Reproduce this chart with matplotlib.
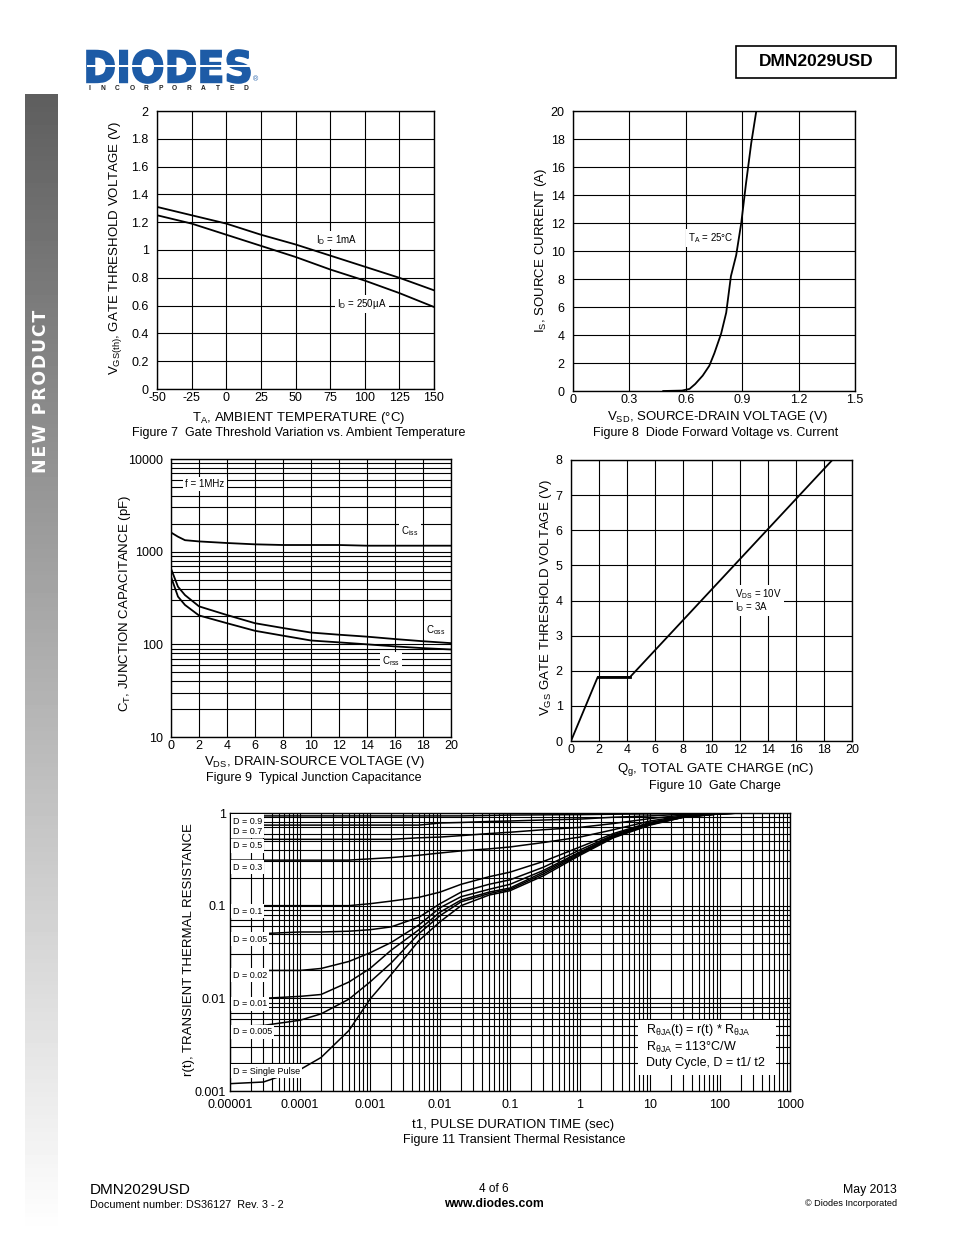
import numpy as np
import matplotlib
matplotlib.use('Agg')
import matplotlib.pyplot as plt
from matplotlib.ticker import LogLocator, FixedLocator, NullFormatter
from matplotlib.textpath import TextPath
from matplotlib.patches import PathPatch, Rectangle
from matplotlib.font_manager import FontProperties
from matplotlib.transforms import Affine2D

plt.rcParams['font.family'] = ['Liberation Sans', 'DejaVu Sans']
plt.rcParams['mathtext.fontset'] = 'custom'
plt.rcParams['mathtext.rm'] = 'Liberation Sans'
plt.rcParams['mathtext.it'] = 'Liberation Sans:italic'
plt.rcParams['mathtext.bf'] = 'Liberation Sans:bold'
plt.rcParams['axes.unicode_minus'] = False

# ---- Figure 7: gate threshold vs temperature
temp_c = [-50, -25, 0, 25, 50, 75, 100, 125, 150]
vth_1ma = [1.31, 1.25, 1.19, 1.11, 1.04, 0.96, 0.88, 0.80, 0.71]
vth_250ua = [1.25, 1.19, 1.11, 1.03, 0.95, 0.86, 0.78, 0.69, 0.59]
f7_yticks = [0, 0.2, 0.4, 0.6, 0.8, 1.0, 1.2, 1.4, 1.6, 1.8, 2.0]
f7_ylabels = ['0', '0.2', '0.4', '0.6', '0.8', '1', '1.2', '1.4', '1.6', '1.8', '2']

# ---- Figure 8: diode forward voltage
vsd = [0.48, 0.58, 0.62, 0.65, 0.69, 0.725, 0.752, 0.788, 0.815, 0.84, 0.868, 0.895, 0.92, 0.948, 0.975]
i_s = [0.0, 0.03, 0.15, 0.5, 1.1, 1.8, 2.7, 4.1, 5.6, 8.2, 9.7, 12.0, 14.8, 17.7, 20.0]
f8_xticks = [0, 0.3, 0.6, 0.9, 1.2, 1.5]
f8_xlabels = ['0', '0.3', '0.6', '0.9', '1.2', '1.5']

# ---- Figure 9: junction capacitance
vds = [0, 0.5, 1, 2, 4, 6, 8, 10, 12, 14, 16, 18, 20]
ciss = [1610, 1450, 1330, 1290, 1240, 1200, 1180, 1180, 1180, 1160, 1160, 1160, 1160]
coss = [656, 418, 340, 257, 207, 169, 150, 134, 127, 121, 114, 108, 103]
crss = [535, 327, 266, 205, 169, 140, 124, 110, 105, 100, 95, 91, 88]
f9_yticks = [10, 100, 1000, 10000]
f9_ylabels = ['10', '100', '1000', '10000']

# ---- Figure 10: gate charge
qg = [0, 1.9, 4.2, 18.6]
vgs = [0, 1.82, 1.82, 8.0]

# ---- Figure 11: transient thermal resistance
t_pulse = [1e-5, 3e-5, 1e-4, 2e-4, 5e-4, 1e-3, 2e-3, 5e-3, 1e-2, 2e-2,
           5e-2, 0.1, 0.3, 1, 3, 10, 30, 100, 200, 1000]
r_d09 = [0.93, 0.93, 0.93, 0.93, 0.93, 0.93, 0.93, 0.93, 0.93, 0.93,
         0.94, 0.95, 0.955, 0.96, 0.97, 0.98, 0.99, 1.0, 1.0, 1.0]
r_d07 = [0.74, 0.74, 0.74, 0.74, 0.74, 0.74, 0.74, 0.74, 0.78, 0.79,
         0.81, 0.82, 0.84, 0.86, 0.90, 0.93, 0.97, 0.995, 1.0, 1.0]
r_d05 = [0.52, 0.52, 0.52, 0.52, 0.52, 0.52, 0.52, 0.54, 0.55, 0.57,
         0.60, 0.62, 0.66, 0.70, 0.77, 0.87, 0.95, 0.99, 1.0, 1.0]
r_d03 = [0.31, 0.31, 0.31, 0.31, 0.31, 0.32, 0.33, 0.35, 0.37, 0.39,
         0.41, 0.43, 0.48, 0.55, 0.66, 0.82, 0.93, 0.99, 1.0, 1.0]
r_d01 = [0.10, 0.10, 0.10, 0.10, 0.10, 0.105, 0.112, 0.123, 0.14, 0.17,
         0.205, 0.23, 0.30, 0.43, 0.60, 0.79, 0.92, 0.985, 1.0, 1.0]
r_d005 = [0.05, 0.05, 0.052, 0.052, 0.053, 0.055, 0.059, 0.075, 0.105, 0.14,
          0.17, 0.19, 0.26, 0.40, 0.58, 0.78, 0.91, 0.985, 1.0, 1.0]
r_d002 = [0.02, 0.02, 0.02, 0.021, 0.025, 0.031, 0.04, 0.062, 0.095, 0.125,
          0.15, 0.17, 0.24, 0.38, 0.57, 0.77, 0.91, 0.98, 1.0, 1.0]
r_d001 = [0.01, 0.01, 0.0105, 0.011, 0.015, 0.021, 0.033, 0.055, 0.085, 0.115,
          0.14, 0.155, 0.23, 0.37, 0.56, 0.76, 0.90, 0.98, 1.0, 1.0]
r_d0005 = [0.005, 0.0051, 0.0058, 0.0068, 0.0098, 0.015, 0.024, 0.05, 0.078, 0.11,
           0.135, 0.15, 0.22, 0.36, 0.55, 0.75, 0.90, 0.98, 1.0, 1.0]
r_single = [0.0012, 0.00125, 0.0017, 0.0023, 0.0045, 0.0098, 0.018, 0.042, 0.067, 0.10,
            0.13, 0.145, 0.21, 0.35, 0.54, 0.74, 0.90, 0.98, 1.0, 1.0]
duty_labels = ['D = 0.9', 'D = 0.7', 'D = 0.5', 'D = 0.3', 'D = 0.1', 'D = 0.05',
               'D = 0.02', 'D = 0.01', 'D = 0.005', 'D = Single Pulse']
f11_xticks = [1e-5, 1e-4, 1e-3, 1e-2, 1e-1, 1, 10, 100, 1000]
f11_xlabels = ['0.00001', '0.0001', '0.001', '0.01', '0.1', '1', '10', '100', '1000']
f11_yticks = [0.001, 0.01, 0.1, 1]
f11_ylabels = ['0.001', '0.01', '0.1', '1']

W, H = 954, 1235
fig = plt.figure(figsize=(W / 100, H / 100), dpi=100)


def box(l, t, r, b):
    return [l / W, 1 - b / H, (r - l) / W, (b - t) / H]


def px(x, y):
    return x / W, 1 - y / H


TICK = 9
LAB = 9.5
SMALL = 7


def style(ax):
    ax.set_axisbelow(True)
    ax.tick_params(length=0, labelsize=TICK)
    ax.tick_params(axis='x', pad=2)
    ax.tick_params(axis='y', pad=6)
    for s in ax.spines.values():
        s.set_linewidth(1.0)
        s.set_color('black')


def tag(x, y, s, size=SMALL, ha='center'):
    fig.text(*px(x, y), s, fontsize=size, ha=ha, va='center',
             bbox=dict(fc='white', ec='none', pad=1.5), zorder=10)


# ---------------- header
fp = FontProperties(family='DejaVu Sans', weight='bold')
tp = TextPath((0, 0), 'DIODES', size=1, prop=fp)
bb = tp.get_extents()
x0, y0 = px(87, 83)
w, h = 163 / W, 33 / H
tr = Affine2D().translate(-bb.x0, -bb.y0).scale(w / bb.width, h / bb.height).translate(x0, y0) + fig.transFigure
fig.add_artist(PathPatch(tp, transform=tr, fc='#1d5ba6', ec='#1d5ba6', lw=1.2))
fig.add_artist(Rectangle(px(87, 67), 165 / W, 1.6 / H, transform=fig.transFigure, fc='white', ec='none'))
fig.text(*px(253, 80), '®', fontsize=5, color='#1d5ba6', ha='left', va='center')
for i, ch in enumerate('INCORPORATED'):
    fig.text(*px(89 + i * 14.3, 89), ch, fontsize=4.8, fontweight='bold', ha='center', va='center', color='#222222')

fig.add_artist(Rectangle(px(736, 78), 160 / W, 32 / H, transform=fig.transFigure,
                         fc='white', ec='black', lw=1.2))
fig.text(*px(816, 62), 'DMN2029USD', fontsize=12.5, fontweight='bold', ha='center', va='center')

# ---------------- side bar
sb = fig.add_axes(box(25, 94, 58, 1235))
grad = np.linspace(0.37, 1.0, 256).reshape(-1, 1)
sb.imshow(grad, aspect='auto', cmap='gray', vmin=0, vmax=1, extent=[0, 1, 0, 1], origin='upper')
sb.axis('off')
fig.text(*px(41, 391), '\u200a'.join('NEW PRODUCT'), rotation=90, color='white', fontsize=12.5,
         fontweight='bold', ha='center', va='center', family='DejaVu Sans')

# ---------------- Figure 7
ax7 = fig.add_axes(box(157, 111, 434, 389))
style(ax7)
ax7.plot(temp_c, vth_1ma, color='black', lw=1.3)
ax7.plot(temp_c, vth_250ua, color='black', lw=1.3)
ax7.set_xlim(-50, 150)
ax7.set_ylim(0, 2)
ax7.set_xticks(temp_c)
ax7.set_yticks(f7_yticks)
ax7.set_yticklabels(f7_ylabels)
ax7.grid(color='black', lw=0.8)
tag(337, 240, 'I$_\\mathrm{D}$ = 1mA')
tag(362, 304, 'I$_\\mathrm{D}$ = 250µA')
fig.text(*px(116, 248), 'V$_\\mathrm{GS(th)}$, GATE THRESHOLD VOLTAGE (V)', rotation=90,
         fontsize=LAB, ha='center', va='center')
fig.text(*px(299, 418), 'T$_\\mathrm{A}$, AMBIENT TEMPERATURE (°C)', fontsize=LAB, ha='center', va='center')
fig.text(*px(299, 433), 'Figure 7  Gate Threshold Variation vs. Ambient Temperature', fontsize=9,
         ha='center', va='center')

# ---------------- Figure 8
ax8 = fig.add_axes(box(573, 111, 855, 391))
style(ax8)
ax8.plot(vsd, i_s, color='black', lw=1.3)
ax8.set_xlim(0, 1.5)
ax8.set_ylim(0, 20)
ax8.set_xticks(f8_xticks)
ax8.set_xticklabels(f8_xlabels)
ax8.set_yticks(range(0, 21, 2))
ax8.grid(color='black', lw=0.8)
tag(711, 238, 'T$_\\mathrm{A}$ = 25°C')
fig.text(*px(541, 250), 'I$_\\mathrm{S}$, SOURCE CURRENT (A)', rotation=90, fontsize=LAB, ha='center', va='center')
fig.text(*px(717, 417), 'V$_\\mathrm{SD}$, SOURCE-DRAIN VOLTAGE (V)', fontsize=LAB, ha='center', va='center')
fig.text(*px(716, 433), 'Figure 8  Diode Forward Voltage vs. Current', fontsize=9, ha='center', va='center')

# ---------------- Figure 9
ax9 = fig.add_axes(box(171, 459, 451, 737))
style(ax9)
ax9.set_yscale('log')
ax9.plot(vds, ciss, color='black', lw=1.3)
ax9.plot(vds, coss, color='black', lw=1.3)
ax9.plot(vds, crss, color='black', lw=1.3)
ax9.set_xlim(0, 20)
ax9.set_ylim(10, 10000)
ax9.set_xticks(range(0, 21, 2))
ax9.yaxis.set_major_locator(FixedLocator(f9_yticks))
ax9.set_yticklabels(f9_ylabels)
ax9.yaxis.set_minor_locator(LogLocator(base=10, subs=np.arange(2, 10), numticks=50))
ax9.yaxis.set_minor_formatter(NullFormatter())
ax9.tick_params(which='minor', length=0)
ax9.grid(which='both', color='black', lw=0.8)
tag(205, 484, 'f = 1MHz')
tag(410, 531, 'C$_\\mathrm{iss}$')
tag(436, 630, 'C$_\\mathrm{oss}$')
tag(391, 661, 'C$_\\mathrm{rss}$')
fig.text(*px(125, 603), 'C$_\\mathrm{T}$, JUNCTION CAPACITANCE (pF)', rotation=90, fontsize=LAB, ha='center', va='center')
fig.text(*px(314, 762), 'V$_\\mathrm{DS}$, DRAIN-SOURCE VOLTAGE (V)', fontsize=LAB, ha='center', va='center')
fig.text(*px(314, 778), 'Figure 9  Typical Junction Capacitance', fontsize=9, ha='center', va='center')

# ---------------- Figure 10
ax10 = fig.add_axes(box(571, 460, 852, 741))
style(ax10)
ax10.plot(qg, vgs, color='black', lw=1.3)
ax10.plot(qg[1:3], vgs[1:3], color='black', lw=2.0)
ax10.set_xlim(0, 20)
ax10.set_ylim(0, 8)
ax10.set_xticks(range(0, 21, 2))
ax10.set_yticks(range(0, 9))
ax10.grid(color='black', lw=0.8)
tag(735, 594, 'V$_\\mathrm{DS}$ = 10V', ha='left')
tag(735, 607, 'I$_\\mathrm{D}$ = 3A', ha='left')
fig.text(*px(546, 598), 'V$_\\mathrm{GS}$ GATE THRESHOLD VOLTAGE (V)', rotation=90, fontsize=LAB, ha='center', va='center')
fig.text(*px(715, 769), 'Q$_\\mathrm{g}$, TOTAL GATE CHARGE (nC)', fontsize=LAB, ha='center', va='center')
fig.text(*px(715, 786), 'Figure 10  Gate Charge', fontsize=9, ha='center', va='center')

# ---------------- Figure 11
ax11 = fig.add_axes(box(230, 813, 790, 1091))
style(ax11)
ax11.set_xscale('log')
ax11.set_yscale('log')
for r in [r_d09, r_d07, r_d05, r_d03, r_d01, r_d005, r_d002, r_d001, r_d0005, r_single]:
    ax11.plot(t_pulse, r, color='black', lw=1.1)
ax11.set_xlim(1e-5, 1000)
ax11.set_ylim(0.001, 1)
ax11.xaxis.set_major_locator(FixedLocator(f11_xticks))
ax11.set_xticklabels(f11_xlabels)
ax11.yaxis.set_major_locator(FixedLocator(f11_yticks))
ax11.set_yticklabels(f11_ylabels)
for a in (ax11.xaxis, ax11.yaxis):
    a.set_minor_locator(LogLocator(base=10, subs=np.arange(2, 10), numticks=100))
    a.set_minor_formatter(NullFormatter())
ax11.tick_params(which='minor', length=0)
ax11.tick_params(axis='x', pad=6)
ax11.tick_params(axis='y', pad=3)
ax11.grid(which='both', color='black', lw=0.8)
label_y = [821, 831, 846, 867, 911, 939, 975, 1004, 1032, 1071]
for s, yy in zip(duty_labels, label_y):
    tag(233, yy, s, size=6.5, ha='left')
fig.add_artist(Rectangle(px(638, 1075), 138 / W, 55 / H, transform=fig.transFigure,
                         fc='white', ec='none', zorder=9))
fig.text(*px(646, 1030), 'R$_{\\mathrm{θJA}}$(t) = r(t) * R$_{\\mathrm{θJA}}$', fontsize=9, ha='left', va='center', zorder=10)
fig.text(*px(646, 1047), 'R$_{\\mathrm{θJA}}$ = 113°C/W', fontsize=9, ha='left', va='center', zorder=10)
fig.text(*px(646, 1063), 'Duty Cycle, D = t1/ t2', fontsize=9, ha='left', va='center', zorder=10)
fig.text(*px(189, 950), 'r(t), TRANSIENT THERMAL RESISTANCE', rotation=90, fontsize=LAB, ha='center', va='center')
fig.text(*px(513, 1125), 't1, PULSE DURATION TIME (sec)', fontsize=LAB, ha='center', va='center')
fig.text(*px(514, 1140), 'Figure 11 Transient Thermal Resistance', fontsize=9, ha='center', va='center')

# ---------------- footer
fig.text(*px(90, 1190), 'DMN2029USD', fontsize=11, ha='left', va='center')
fig.text(*px(90, 1205), 'Document number: DS36127  Rev. 3 - 2', fontsize=7.8, ha='left', va='center')
fig.text(*px(494, 1189), '4 of 6', fontsize=8.5, ha='center', va='center')
fig.text(*px(494, 1204), 'www.diodes.com', fontsize=8.8, fontweight='bold', ha='center', va='center')
fig.text(*px(897, 1190), 'May 2013', fontsize=8.8, ha='right', va='center')
fig.text(*px(897, 1204), '© Diodes Incorporated', fontsize=6.6, ha='right', va='center')

fig.savefig('out.png', dpi=100)
